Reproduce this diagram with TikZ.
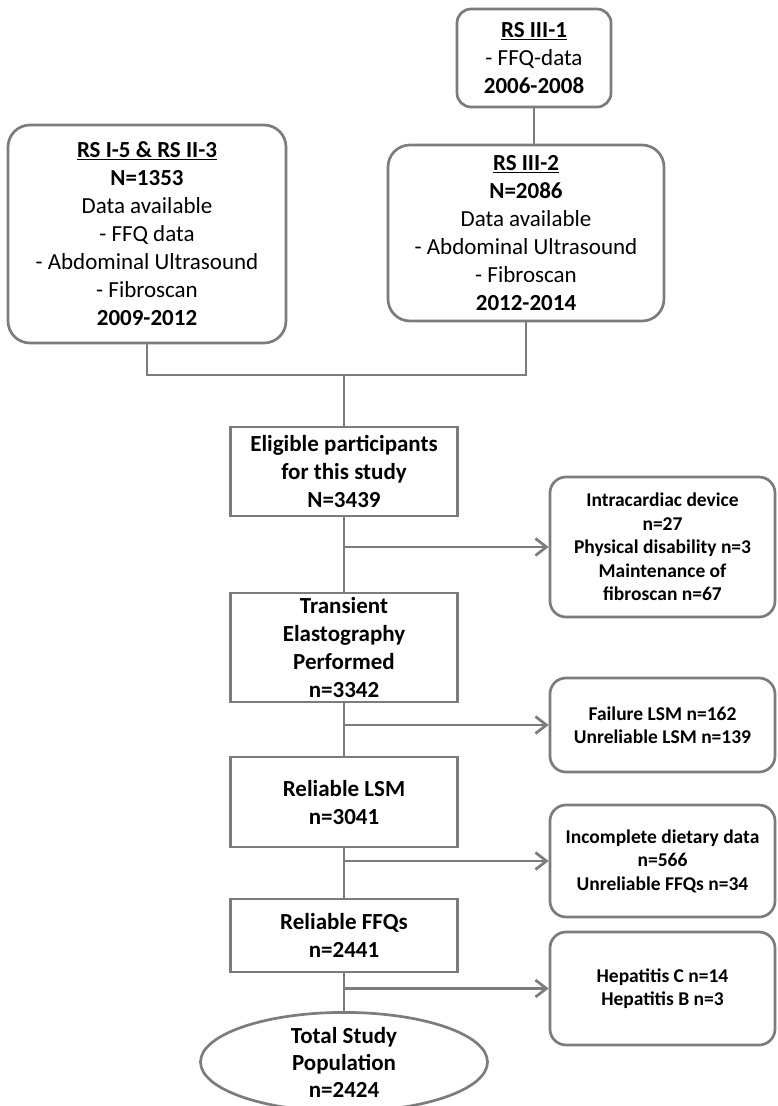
\documentclass[tikz,border=0pt]{standalone}
\usepackage{fontspec}
\setmainfont{Carlito}
\usepackage{tikz}
\usetikzlibrary{arrows.meta,shapes.geometric}

\definecolor{linegray}{RGB}{124,124,124}

\begin{document}
\begin{tikzpicture}[x=1pt,y=-1pt,>={Straight Barb[length=11pt,width=17pt]},
  line width=2.7pt,
  link/.style={draw=linegray},
  study node/.style={draw=linegray,rounded corners=22pt,inner sep=0pt,align=center,font=\fontsize{23}{28}\selectfont},
  step node/.style={draw=linegray,inner sep=0pt,align=center,minimum width=227pt,font=\bfseries\fontsize{23}{28}\selectfont},
  excl node/.style={draw=linegray,rounded corners=16pt,inner sep=0pt,align=center,minimum width=225pt,font=\bfseries\fontsize{19.5}{23.5}\selectfont}]

  \useasboundingbox (0,0) rectangle (777,1106);

  \node[study node,minimum width=154pt,minimum height=98pt,rounded corners=14pt] (rs1) at (534,58)
    {\textbf{\underline{RS III-1}}\\- FFQ-data\\\textbf{2006-2008}};
  \node[study node,minimum width=276pt,minimum height=176pt] (rs2) at (526,233)
    {\textbf{\underline{RS III-2}}\\\textbf{N=2086}\\Data available\\- Abdominal Ultrasound\\- Fibroscan\\\textbf{2012-2014}};
  \node[study node,minimum width=278pt,minimum height=218pt] (rs0) at (147,234)
    {\textbf{\underline{RS I-5 \& RS II-3}}\\\textbf{N=1353}\\Data available\\- FFQ data\\- Abdominal Ultrasound\\- Fibroscan\\\textbf{2009-2012}};
  \coordinate (join) at (344,375);

  \node[step node,minimum height=89pt] (elig) at (344,471.5) {Eligible participants\\for this study\\N=3439};
  \node[step node,minimum height=109pt] (trans) at (344,647.5) {Transient\\Elastography\\Performed\\n=3342};
  \node[step node,minimum height=90pt] (rlsm) at (344,802) {Reliable LSM\\n=3041};
  \node[step node,minimum height=73pt] (rffq) at (344,935.5) {Reliable FFQs\\n=2441};
  \node[draw=linegray,ellipse,inner sep=0pt,minimum width=287pt,minimum height=94pt,align=center,
    font=\bfseries\fontsize{23}{27}\selectfont] (total) at (344,1062) {Total Study\\Population\\n=2424};

  \node[excl node,minimum height=140pt] (ex1) at (662.5,547)
    {Intracardiac device\\n=27\\Physical disability n=3\\Maintenance of\\fibroscan n=67};
  \node[excl node,minimum height=94pt] (ex2) at (662.5,725) {Failure LSM n=162\\Unreliable LSM n=139};
  \node[excl node,minimum height=112pt] (ex3) at (662.5,861) {Incomplete dietary data\\n=566\\Unreliable FFQs n=34};
  \node[excl node,minimum height=113pt] (ex4) at (662.5,988.5) {Hepatitis C n=14\\Hepatitis B n=3};

  \draw[link] (rs1.south) -- (rs1.south |- rs2.north);
  \draw[link] (rs0.south) |- (join) -| (rs2.south);
  \draw[link] (join) -- (elig.north);
  \draw[link] (elig) -- (trans) -- (rlsm) -- (rffq) -- (total);

  \draw[link,->] (elig.south |- ex1.west) -- (ex1.west);
  \draw[link,->] (elig.south |- ex2.west) -- (ex2.west);
  \draw[link,->] (elig.south |- ex3.west) -- (ex3.west);
  \draw[link,->] (elig.south |- ex4.west) -- (ex4.west);

\end{tikzpicture}
\end{document}
